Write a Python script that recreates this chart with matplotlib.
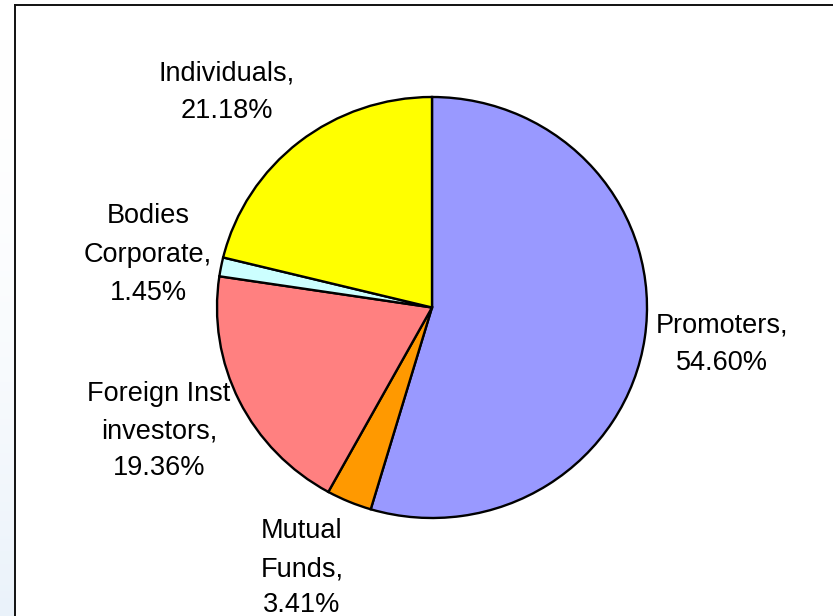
import matplotlib.pyplot as plt
import numpy as np
from matplotlib.lines import Line2D

# shareholding pattern
categories = ["Promoters", "Mutual Funds", "Foreign Inst investors",
              "Bodies Corporate", "Individuals"]
shares = [54.60, 3.41, 19.36, 1.45, 21.18]
colors = ["#9999FF", "#FF9900", "#FF8080", "#CCFFFF", "#FFFF00"]

# label text broken into lines as in the original
label_lines = [
    ["Promoters,", "54.60%"],
    ["Mutual", "Funds,", "3.41%"],
    ["Foreign Inst", "investors,", "19.36%"],
    ["Bodies", "Corporate,", "1.45%"],
    ["Individuals,", "21.18%"],
]

W, H = 833, 616
fig = plt.figure(figsize=(W / 100.0, H / 100.0), dpi=100)
plt.rcParams['font.family'] = ['Liberation Sans', 'DejaVu Sans']

# faint blue strip left of the chart frame
bg = fig.add_axes([0, 0, 15.0 / W, 1])
grad = np.linspace(0, 1, 200).reshape(-1, 1) ** 2
bg.imshow(grad, aspect='auto', cmap=plt.matplotlib.colors.LinearSegmentedColormap.from_list(
    "b", ["#FFFFFF", "#EAF2FA"]), extent=[0, 1, 0, 1], origin='upper')
bg.set_axis_off()

# chart frame (left and top edges visible)
fig.add_artist(Line2D([15.0 / W, 15.0 / W], [0, 1 - 4.5 / H], color="#111111", lw=1.4))
fig.add_artist(Line2D([15.0 / W, 1], [1 - 4.5 / H, 1 - 4.5 / H], color="#111111", lw=1.4))

# pie, centred at (432, 308) px, radii 215 x 211 px
cx, cy, rx, ry = 432, 307.5, 215, 210.5
ax = fig.add_axes([(cx - rx) / W, (H - cy - ry) / H, 2 * rx / W, 2 * ry / H])
ax.pie(shares, colors=colors, startangle=90, counterclock=False,
       wedgeprops=dict(edgecolor="black", linewidth=1.7))
ax.set_aspect('auto')
ax.set_xlim(-1, 1)
ax.set_ylim(-1, 1)
ax.set_axis_off()

# label placement: centre x and baselines in pixels
label_x = [722, 302, 159, 148, 227]
label_base = [[333, 370], [538, 576, 612], [401, 438, 475],
              [223, 262, 300], [81, 118]]

for lines, x, ys in zip(label_lines, label_x, label_base):
    for s, y in zip(lines, ys):
        fig.text(x / W, 1 - y / H, s, ha='center', va='baseline',
                 fontsize=19.5, color='black')

fig.savefig("out.png", dpi=100)
